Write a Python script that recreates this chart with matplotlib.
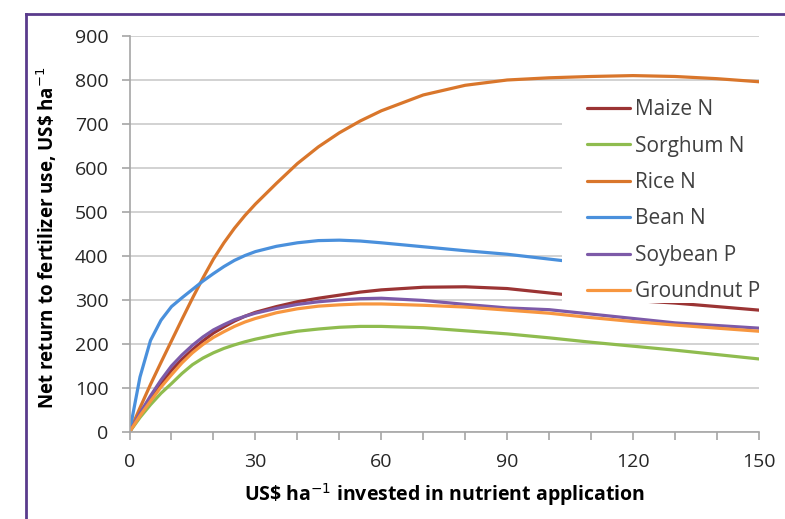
import matplotlib
matplotlib.use("Agg")
from matplotlib import pyplot as plt
from matplotlib.lines import Line2D
from matplotlib.patches import Rectangle

plt.rcParams['font.family'] = ['Open Sans', 'DejaVu Sans']
plt.rcParams['mathtext.fontset'] = 'dejavusans'

# data (US$ invested -> net return)
x = [0, 2.5, 5, 7.5, 10, 12.5, 15, 17.5, 20, 22.5, 25, 27.5, 30, 35, 40, 45, 50, 55, 60,
     70, 80, 90, 100, 110, 120, 130, 140, 150]
maize = [0, 40, 75, 110, 140, 165, 187, 207, 225, 239, 252, 263, 272, 285, 296, 304, 311, 318, 323,
         329, 330, 326, 316, 306, 299, 293, 285, 277]
sorghum = [0, 33, 62, 88, 110, 133, 153, 168, 180, 190, 198, 205, 211, 221, 229, 234, 238, 240, 240,
           237, 230, 223, 214, 204, 195, 186, 176, 166]
rice = [0, 55, 108, 158, 207, 256, 304, 350, 393, 430, 463, 492, 518, 565, 610, 648, 680, 707, 730,
        766, 788, 800, 805, 808, 810, 808, 803, 796]
bean = [0, 125, 208, 254, 285, 305, 324, 343, 360, 376, 390, 401, 410, 422, 430, 435, 436, 434, 430,
        421, 412, 404, 393, 382, 371, 360, 350, 340]
soybean = [0, 43, 82, 118, 150, 175, 197, 216, 232, 244, 255, 263, 270, 281, 290, 296, 300, 303, 304,
           299, 290, 282, 278, 268, 258, 248, 242, 236]
groundnut = [0, 37, 70, 102, 130, 157, 180, 199, 215, 228, 240, 250, 258, 271, 280, 286, 289, 291, 291,
             288, 284, 277, 270, 260, 251, 243, 236, 229]

series = [
    ("Maize N", maize, "#9b3434"),
    ("Sorghum N", sorghum, "#8fbc4f"),
    ("Rice N", rice, "#d9762b"),
    ("Bean N", bean, "#4a90dc"),
    ("Soybean P", soybean, "#7d5aa8"),
    ("Groundnut P", groundnut, "#f7963f"),
]

W, H = 785, 519
fig = plt.figure(figsize=(W / 100, H / 100), dpi=100)
ax = fig.add_axes([129.5 / W, 1 - 432 / H, 629.5 / W, 396 / H])

handles = []
for name, vals, col in series:
    ln, = ax.plot(x, vals, color=col, lw=2.3, label=name, solid_capstyle='round', solid_joinstyle='round')
    handles.append(ln)

ax.set_xlim(0, 150)
ax.set_ylim(0, 900)
ax.set_yticks(range(0, 901, 100))
ax.set_xticks(range(0, 151, 30))
ax.set_xticks(range(0, 151, 10), minor=True)
ax.grid(axis='y', color='#cfcfcf', lw=1.3)
ax.set_axisbelow(True)

for s in ['top', 'right']:
    ax.spines[s].set_visible(False)
for s in ['left', 'bottom']:
    ax.spines[s].set_color('#a6a6a6')
    ax.spines[s].set_linewidth(1.2)
ax.tick_params(which='both', color='#a6a6a6', width=1.2, length=6, direction='out')
ax.tick_params(which='major', labelsize=14, labelcolor='#262626', pad=9)

ax.set_ylabel(r"Net return to fertilizer use, US\$ ha$^{-1}$", fontsize=13.5, fontweight='bold')
ax.set_xlabel(r"US\$ ha$^{-1}$ invested in nutrient application", fontsize=14, fontweight='bold')
ax.yaxis.set_label_coords(-0.112, 0.49)
ax.xaxis.set_label_coords(0.5, -0.125)

# white box behind the legend, it hides the curves like in the original
fig.add_artist(Rectangle((562 / W, 1 - 303 / H), 213 / W, 208 / H, transform=fig.transFigure,
                         facecolor='white', edgecolor='none', zorder=1))
leg = fig.legend(handles=handles, loc='upper left', bbox_to_anchor=(583 / W, 1 - 95 / H),
                 frameon=False, fontsize=15, labelspacing=0.74, handlelength=2.07,
                 handletextpad=0.24, borderpad=0.2, borderaxespad=0)
leg.set_zorder(2)
for t in leg.get_texts():
    t.set_color('#404040')

# purple frame around the figure
fig.add_artist(Line2D([26 / W, 1], [1 - 14 / H, 1 - 14 / H], color='#5a3b8c', lw=2))
fig.add_artist(Line2D([26 / W, 26 / W], [0, 1 - 14 / H], color='#5a3b8c', lw=2))

fig.savefig("out.png", dpi=100)
